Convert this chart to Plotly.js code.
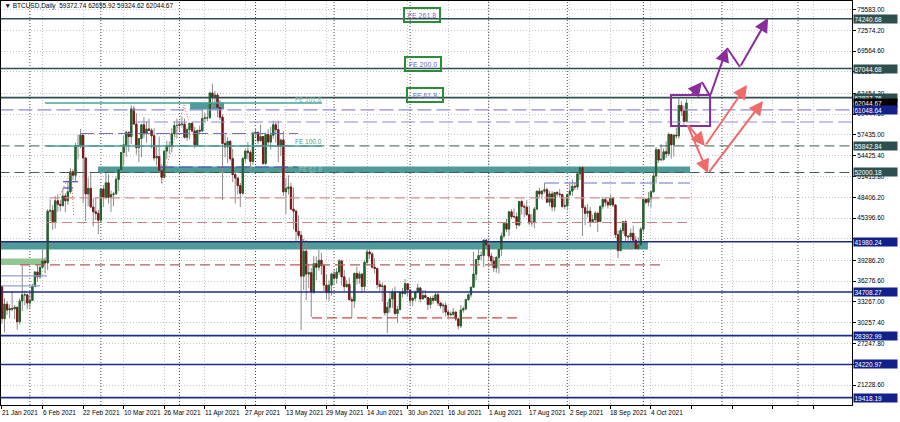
<!DOCTYPE html>
<html><head><meta charset="utf-8">
<script src="https://cdn.plot.ly/plotly-3.0.1.min.js"></script>
<style>html,body{margin:0;padding:0;background:#fff}#chart{width:900px;height:422px}</style>
</head><body><div id="chart"></div>
<script>
// Daily BTCUSD bars, 21 Jan 2021 .. 18 Oct 2021 (index 0 = 21 Jan 2021)
const open = [
35500,30850,32950,32100,32300,32250,32500,30400,33400,34300,34300,
33100,33500,35500,37600,36900,38300,39200,38900,46400,46500,44900,47900,47400,47200,48600,47900,49200,52100,51600,55900,55900,57400,54100,48900,49700,47000,46300,46100,
45100,49600,48400,50500,48400,48800,48900,51000,52400,54900,56000,57800,57200,61200,59000,55600,56900,58900,57600,58300,58100,57300,54100,54300,52300,51300,55100,55900,55800,57600,58800,
58800,59000,59000,57100,58200,59100,58000,56000,58100,58000,59800,59900,59900,63500,62900,63200,61400,60000,56200,55700,56500,54000,51700,51200,50100,49000,54000,55100,54900,53600,
57700,57800,56600,57200,53300,57500,56400,57400,58900,58200,55800,56700,49200,49700,49900,46700,46400,43500,42900,37000,40600,37300,37500,34700,38800,38300,39300,38500,35700,34600,35700,
37300,36700,37600,39200,36900,35500,35800,33600,33400,37400,36700,37300,35500,39000,40500,40200,38300,38100,35800,35500,35600,31700,32500,33700,34700,31600,32200,34700,34500,35900,
35000,33500,33800,34700,35300,33700,34200,33900,32900,33800,33500,34300,33100,32700,32800,31800,31400,31500,31800,30800,29800,32100,32300,33600,34300,35400,37300,39400,40000,40000,42200,
41500,39900,39200,38200,39700,40900,42800,44600,43800,46300,45600,45600,44400,47800,47100,47000,45900,44700,44800,46700,49300,48900,49300,49500,47700,48900,47000,49100,48900,48800,47100,
47200,48800,49300,50000,49900,51800,52700,46900,46100,46400,44900,45200,46100,44900,47100,48100,47700,47300,48300,47300,43000,40700,43600,44900,42800,42700,43200,42200,41000,41500,
43800,48100,47700,48200,49200,51500,55300,53800,53900,55000,54700,57500,56000,57400,57300,61700,60900,59372.74];
const high = [
35600,33800,33400,32900,34800,32800,32550,33800,38500,34900,34300,
34700,35900,37700,38700,38300,40900,39700,46700,48100,47300,48600,48800,48000,49700,49000,50600,52600,52500,56300,57500,58300,57500,54200,51300,51900,48300,48300,46600,
49800,50200,52600,51800,49400,49200,51400,52400,54900,57400,58100,58000,61700,61600,60600,56900,58900,60000,59400,59800,58400,58400,55800,57200,53200,55100,56600,56500,58400,59400,59800,
59500,60100,59800,58500,59200,59400,58600,58100,58800,61200,60600,61300,63700,64850,63800,63500,62500,60400,57500,57100,56700,55400,52100,51200,50500,54300,55400,56400,55200,57900,
58400,57900,58900,57200,57800,58300,58600,59500,59300,59500,56900,58000,51200,51600,50500,49800,46600,45800,43500,42400,42200,38800,38200,39900,39800,40800,40400,38800,37300,36400,37500,
37900,38200,39500,39300,37900,36400,36800,34000,37500,38400,37700,37400,39300,41000,41300,40500,39600,38200,36400,36100,35700,33300,34800,35200,35500,32700,34700,35300,36600,36000,
35000,33900,34900,35900,35300,35000,35000,33900,34100,34200,34600,34600,33300,33100,33200,32200,31900,32400,31900,31000,32800,32600,33700,34500,35400,40500,39500,40900,40600,42300,42400,
42500,40400,39800,39900,41300,43300,44700,45300,46500,46700,46800,46200,47900,48100,47400,48000,47100,46000,47000,49300,49800,49500,50500,49800,49300,49300,49200,49300,49600,48900,48200,
49000,50400,51000,50500,51900,52800,52900,47300,47400,47000,45900,46400,46300,47200,48500,48400,48000,48800,48400,47300,43600,44000,44900,45100,42900,43900,44300,42800,42600,44100,
48300,48300,49200,49400,51900,55700,55300,56100,55500,56500,57800,57600,57600,58500,62900,62300,61700,62655.92];
const low = [
30100,28850,31400,30900,31900,30800,29250,30000,31950,32800,32200,
32300,33400,35400,36200,36600,38200,37400,37900,45000,43700,43900,46300,46400,47100,46300,47300,48900,50900,50800,53900,55500,47600,45000,47100,46900,44200,45100,43100,
45000,47000,48100,47500,46300,47100,48900,49300,51900,53000,54300,55000,56100,59000,54600,53500,54200,57000,56300,58000,55500,53700,53000,52000,50400,51300,53900,54700,54900,57100,56900,
58000,58500,56900,56600,56800,57800,55500,55800,57700,57900,59400,59400,59900,61300,62100,60000,59600,48000,54200,53400,53700,50600,47500,48800,47000,48800,53400,53900,52400,53100,
57100,56100,56500,53100,53100,55800,55300,56900,56300,53500,54400,48600,46000,48800,46600,43800,42100,42300,29200,35000,33500,35300,31100,34400,36400,37800,37200,34800,33600,33400,34200,
35700,35900,37200,35600,34800,35300,33500,31000,32400,35800,35900,34600,34800,38700,39500,38100,37400,35200,34800,33300,31300,28800,31700,32400,31300,30200,32000,33900,34300,34000,
32800,32700,33400,34500,33200,33700,33800,32100,32300,33000,33400,32700,32300,31600,31200,31100,31200,31200,30500,29300,29500,31700,32000,33400,33900,35300,36400,38800,39300,38300,41100,
39400,38700,37600,37500,37400,39900,42500,43400,42800,45300,45500,43800,44200,45900,45500,45700,44400,44200,43900,46600,48300,48100,49000,47600,47100,46400,46400,48500,48400,46900,46700,
46500,48600,48600,49500,49500,50900,42800,44400,45500,44100,44800,44800,43400,44800,46700,47100,46800,47100,47000,42500,39600,40600,43100,40900,41700,40800,42100,40900,40800,41400,
43300,47400,47100,46900,49100,50400,53400,53700,53700,54100,54400,54000,54300,56900,56900,60200,58900,59324.62];
const close = [
30850,32950,32100,32300,32250,32500,30400,33400,34300,34300,33100,
33500,35500,37600,36900,38300,39200,38900,46400,46500,44900,47900,47400,47200,48600,47900,49200,52100,51600,55900,55900,57400,54100,48900,49700,47000,46300,46100,45100,
49600,48400,50500,48400,48800,48900,51000,52400,54900,56000,57800,57200,61200,59000,55600,56900,58900,57600,58300,58100,57300,54100,54300,52300,51300,55100,55900,55800,57600,58800,58800,
59000,59000,57100,58200,59100,58000,56000,58100,58000,59800,59900,59900,63500,62900,63200,61400,60000,56200,55700,56500,54000,51700,51200,50100,49000,54000,55100,54900,53600,57700,
57800,56600,57200,53300,57500,56400,57400,58900,58200,55800,56700,49200,49700,49900,46700,46400,43500,42900,37000,40600,37300,37500,34700,38800,38300,39300,38500,35700,34600,35700,37300,
36700,37600,39200,36900,35500,35800,33600,33400,37400,36700,37300,35500,39000,40500,40200,38300,38100,35800,35500,35600,31700,32500,33700,34700,31600,32200,34700,34500,35900,35000,
33500,33800,34700,35300,33700,34200,33900,32900,33800,33500,34300,33100,32700,32800,31800,31400,31500,31800,30800,29800,32100,32300,33600,34300,35400,37300,39400,40000,40000,42200,41500,
39900,39200,38200,39700,40900,42800,44600,43800,46300,45600,45600,44400,47800,47100,47000,45900,44700,44800,46700,49300,48900,49300,49500,47700,48900,47000,49100,48900,48800,47100,47200,
48800,49300,50000,49900,51800,52700,46900,46100,46400,44900,45200,46100,44900,47100,48100,47700,47300,48300,47300,43000,40700,43600,44900,42800,42700,43200,42200,41000,41500,43800,
48100,47700,48200,49200,51500,55300,53800,53900,55000,54700,57500,56000,57400,57300,61700,60900,59400,62044.67];

const xTickDays = [0,16,32,48,64,80,96,112,128,144,160,176,192,208,224,240,256,272,288,304,320];
const xTickLabels = ['21 Jan 2021','6 Feb 2021','22 Feb 2021','10 Mar 2021','26 Mar 2021','11 Apr 2021','27 Apr 2021','13 May 2021','29 May 2021','14 Jun 2021','30 Jun 2021','16 Jul 2021','1 Aug 2021','17 Aug 2021','2 Sep 2021','18 Sep 2021','4 Oct 2021','','','',''];
const monthStarts = [11,39,70,100,131,161,192,223,253,284,314];
const yTickValues = [75583.00,72574.20,69564.60,66554.00,63454.20,60444.60,57435.00,54425.40,51415.80,48406.20,45396.60,42387.00,39286.20,36276.60,33267.00,30257.40,27247.80,24238.20,21228.60,18219.00];
const yTickHidden = [42387.00,24238.20];

const slateLevels = [74240.68,67044.68,62837.76];
const dashLevels = [55842.84,52000.18];
const navyLevels = [41980.24,34708.27,28392.99,24220.97,19418.19];
const badgePrices = [74240.68,67044.68,62837.76,62044.67,61048.64,55842.84,52000.18,41980.24,34708.27,28392.99,24220.97,19418.19];
const badgeKinds  = ['s','s','s','k','n','s','s','n','n','n','n','n'];
const headerText = '\u25BC BTCUSD,Daily  59372.74 62655.92 59324.62 62044.67';

const xs = open.map((_, i) => i);
const bodyHi = open.map((o, i) => Math.max(o, close[i]));
const bodyLo = open.map((o, i) => Math.min(o, close[i]));

const XR = [-0.39, 335.3];
const YR = [18354, 76813];
const FONT = 'Liberation Sans';

const wick = {type:'candlestick', x:xs, open:open, high:high, low:low, close:close,
  increasing:{line:{color:'#8c8c8c', width:1}, fillcolor:'#8c8c8c'},
  decreasing:{line:{color:'#8c8c8c', width:1}, fillcolor:'#8c8c8c'},
  whiskerwidth:0, hoverinfo:'skip', showlegend:false};
const body = {type:'candlestick', x:xs, open:open, high:bodyHi, low:bodyLo, close:close,
  increasing:{line:{color:'#21652a', width:1}, fillcolor:'#21652a'},
  decreasing:{line:{color:'#7c1818', width:1}, fillcolor:'#7c1818'},
  whiskerwidth:0, hoverinfo:'skip', showlegend:false};

const shapes = [];
function hline(y, x0, x1, color, width, dash, layer){
  shapes.push({type:'line', xref:'x', yref:'y', x0:x0, x1:x1, y0:y, y1:y, layer:layer||'above',
    line:{color:color, width:width, dash:dash||'solid'}});
}
function rect(x0,x1,y0,y1,fill,layer){
  shapes.push({type:'rect', xref:'x', yref:'y', x0:x0, x1:x1, y0:y0, y1:y1, layer:layer||'between',
    fillcolor:fill, line:{width:0}});
}
function seg(x0,y0,x1,y1,color,width,dash){
  shapes.push({type:'line', xref:'x', yref:'y', x0:x0, y0:y0, x1:x1, y1:y1, layer:'above',
    line:{color:color, width:width, dash:dash||'solid'}});
}
// month separators
monthStarts.forEach(d => shapes.push({type:'line', xref:'x', yref:'paper', x0:d, x1:d, y0:0, y1:1, layer:'between',
  line:{color:'#4a4a4a', width:1, dash:'1px,2px'}}));

// zones
rect(-1, 254.8, 40860, 42090, '#4f9b99');
rect(37.9, 271.4, 51928, 52868, '#4f9b99');
rect(74.2, 87.6, 61115, 62128, '#4f9b99');
rect(-1, 17, 38618, 39558, '#93c593');

// full-width levels
slateLevels.forEach(p => hline(p, -1, 336, '#2f4f4f', 1.6));
dashLevels.forEach(p => hline(p, -1, 336, '#3e5c52', 1, '10px,5px'));
navyLevels.forEach(p => hline(p, -1, 336, '#1e2a8e', 1.6));
// FE lines
hline(62055, 17, 126.2, '#46a29e', 1.5);
hline(55842.84, 17.75, 126.2, '#46a29e', 1.5);
// lavender dashed
hline(61048.64, -1, 336, '#8c8cd8', 1.2, '14px,5px');
hline(59307, 52.5, 336, '#8c8cd8', 1.2, '14px,5px');
hline(57643, 30.8, 116.8, '#6f6fc6', 1.2, '14px,5px');
hline(52796, 62.3, 116.8, '#4a4ab8', 1.2, '14px,5px');
hline(50481, 214.2, 271.4, '#6f6fc6', 1.2, '14px,5px');
hline(37033, -1, 17.75, '#9a9ad8', 1.2);
hline(35586, -1, 15, '#9a9ad8', 1.2);
hline(50669, 24.1, 30, '#4a4ab8', 1.2);
hline(49757, 24.1, 28, '#4a4ab8', 1.2);
// salmon dashed
hline(48311, 18.9, 271.4, '#d89090', 1.2, '10px,5px');
hline(44765, 17.75, 271.4, '#d08080', 1.2, '10px,5px');
hline(38618, 7.1, 259.6, '#b06060', 1.2, '10px,5px');
hline(30950, 122.3, 203.6, '#c84848', 1.2, '10px,5px');
// dotted red arcs
seg(22.9,48745,27.2,52072,'#d06060',1,'1px,2px');
seg(27.2,52072,28.4,45562,'#d06060',1,'1px,2px');
seg(63.1,50481,71.8,61766,'#d06060',1,'1px,2px');
seg(71.8,61766,76.1,56413,'#d06060',1,'1px,2px');
// purple box
shapes.push({type:'rect', xref:'x', yref:'y', x0:263.9, x1:279.3, y0:58727, y1:63213, layer:'above',
  line:{color:'#8a2d9c', width:2}, fillcolor:'rgba(0,0,0,0)'});
// plain segments
seg(276.1,65094,279.3,63068,'#8a2d9c',2);
seg(286,70013,291.1,67264,'#8a2d9c',2);

const annotations = [];
function arrow(x0,y0,x1,y1,color){
  annotations.push({x:x1, y:y1, ax:x0, ay:y0, xref:'x', yref:'y', axref:'x', ayref:'y', text:'',
    showarrow:true, arrowhead:2, arrowsize:1.4, arrowwidth:2, arrowcolor:color, standoff:0, startstandoff:0});
}
arrow(271.4,62924,276.1,65094,'#8a2d9c');
arrow(279.3,63068,286,70013,'#8a2d9c');
arrow(291.1,67264,302.2,74353,'#8a2d9c');
arrow(270.2,59018,277.3,55834,'#f06a6a');
arrow(277.3,55834,293.9,64660,'#f06a6a');
arrow(270.2,59018,278.5,51883,'#f06a6a');
arrow(278.5,51883,300.2,62345,'#f06a6a');

// FE boxes
[['FE 261.8',165.7,74787],['FE 200.0',166.1,67626],['FE 61.8',166.9,63213]].forEach(b => annotations.push({
  x:b[1], y:b[2], xref:'x', yref:'y', text:b[0], showarrow:false, width:32, height:10,
  bordercolor:'#2e8b3a', borderwidth:2, borderpad:1, bgcolor:'rgba(255,255,255,0)',
  font:{family:FONT, size:7, color:'#6a6ac0'}}));
// FE level labels
[['FE 161.8',121.1,62490,'#7ab6b4'],['FE 100.0',121.1,56413,'#3f9e9a'],['FE 61.8',121.5,52400,'#86c4c2']].forEach(t => annotations.push({
  x:t[1], y:t[2], xref:'x', yref:'y', text:t[0], showarrow:false, font:{family:FONT, size:6.5, color:t[3]}}));

// date labels (left-aligned at their tick, MT4 style)
xTickDays.forEach((d,i) => { if (xTickLabels[i]) annotations.push({
  x:d, xref:'x', xanchor:'left', xshift:-1, y:0, yref:'paper', yanchor:'top', yshift:-3,
  text:xTickLabels[i], showarrow:false, borderpad:0, font:{family:FONT, size:6.5, color:'#000'}}); });

// price badges
const badgeBg = {s:'#2f4f4f', k:'#000000', n:'#14208a'};
badgePrices.forEach((p,i) => annotations.push({
  x:1, xref:'paper', xanchor:'left', xshift:1, y:p, yref:'y', yanchor:'middle',
  text:p.toFixed(2), showarrow:false, bgcolor:badgeBg[badgeKinds[i]], width:42, height:7, align:'left', borderpad:0.5,
  font:{family:FONT, size:6.5, color:'#ffffff'}}));

const layout = {
  width:900, height:422, paper_bgcolor:'#ffffff', plot_bgcolor:'#ffffff',
  margin:{l:1, r:48, t:1, b:17},
  showlegend:false, hovermode:false, dragmode:false,
  title:{text:headerText, x:0.004, xanchor:'left', xref:'paper', y:0.986, yanchor:'middle', yref:'container',
    font:{family:FONT, size:6.5, color:'#000000'}},
  xaxis:{type:'linear', range:XR, rangeslider:{visible:false}, tickmode:'array', tickvals:xTickDays,
    showticklabels:false, ticks:'outside', ticklen:3, tickcolor:'#000',
    showgrid:true, gridcolor:'#c4c4c4', griddash:'1px,2px', gridwidth:1, zeroline:false,
    showline:true, linecolor:'#000', linewidth:1, mirror:true, fixedrange:true},
  yaxis:{side:'right', range:YR, tickmode:'array', tickvals:yTickValues,
    ticktext:yTickValues.map(v => yTickHidden.includes(v) ? '' : v.toFixed(2)),
    ticks:'outside', ticklen:3, tickcolor:'#000', tickfont:{family:FONT, size:6.5, color:'#000'},
    showgrid:true, gridcolor:'#c4c4c4', griddash:'1px,2px', gridwidth:1, zeroline:false,
    showline:true, linecolor:'#000', linewidth:1, mirror:true, fixedrange:true},
  shapes:shapes, annotations:annotations
};
Plotly.newPlot('chart', [wick, body], layout, {staticPlot:true, displayModeBar:false});
</script></body></html>
